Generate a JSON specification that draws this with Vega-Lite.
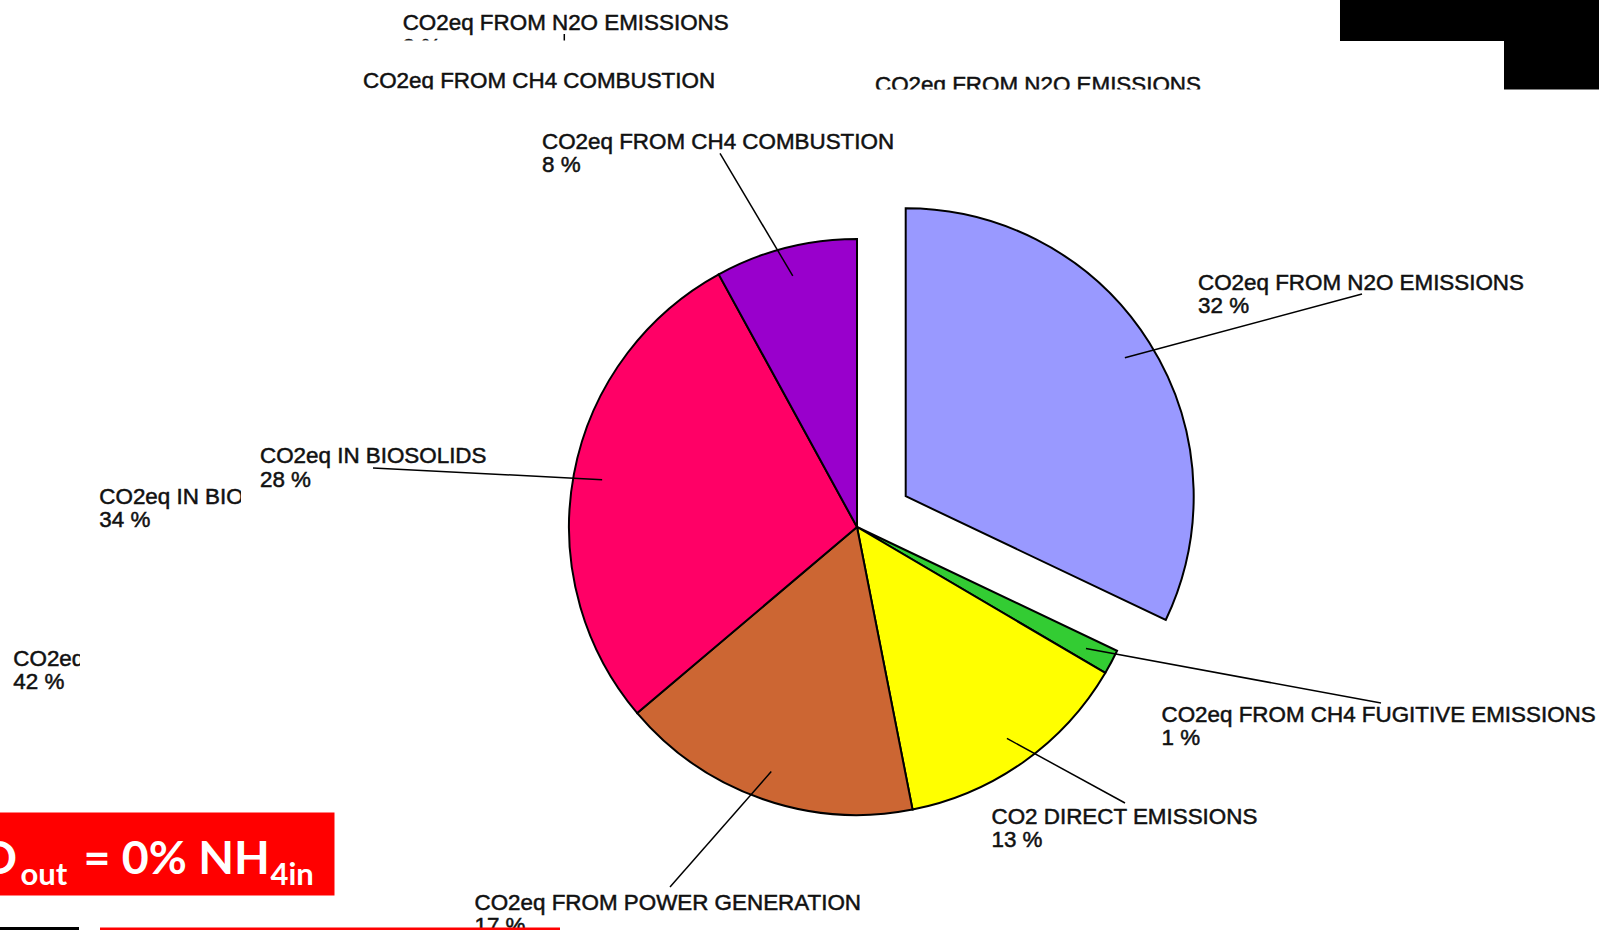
{
  "$schema": "https://vega.github.io/schema/vega-lite/v6.json",
  "width": 1599,
  "height": 930,
  "autosize": "none",
  "padding": 0,
  "background": "white",
  "config": {"view": {"stroke": null}},
  "datasets": {
    "slices": [
      {"k": 1, "name": "CO2eq FROM N2O EMISSIONS", "value": 32.07},
      {"k": 2, "name": "CO2eq FROM CH4 FUGITIVE EMISSIONS", "value": 1.39},
      {"k": 3, "name": "CO2 DIRECT EMISSIONS", "value": 13.45},
      {"k": 4, "name": "CO2eq FROM POWER GENERATION", "value": 16.91},
      {"k": 5, "name": "CO2eq IN BIOSOLIDS", "value": 28.21},
      {"k": 6, "name": "CO2eq FROM CH4 COMBUSTION", "value": 7.97}
    ],
    "anchors": [
      {"name": "CO2eq FROM N2O EMISSIONS", "tx": 1.18403, "ty": 0.82465, "ex": 1.75347, "ey": 0.80903},
      {"name": "CO2eq FROM CH4 FUGITIVE EMISSIONS", "tx": 1.05729, "ty": -0.67569, "ex": 1.81944, "ey": -0.61111},
      {"name": "CO2 DIRECT EMISSIONS", "tx": 0.46701, "ty": -1.03125, "ex": 0.93056, "ey": -0.95833},
      {"name": "CO2eq FROM POWER GENERATION", "tx": -1.32813, "ty": -1.32813, "ex": -0.64931, "ey": -1.25},
      {"name": "CO2eq IN BIOSOLIDS", "tx": -2.07292, "ty": 0.22049, "ex": -1.68056, "ey": 0.20486},
      {"name": "CO2eq FROM CH4 COMBUSTION", "tx": -1.09375, "ty": 1.3125, "ex": -0.47569, "ey": 1.29757}
    ],
    "ghosts": [
      {"chart": "back", "label": "CO2eq FROM N2O EMISSIONS\n9 %", "x": -1.57743, "y": 1.72569},
      {"chart": "back", "label": "CO2eq IN BIOSOLIDS\n42 %", "x": -2.92951, "y": -0.48264},
      {"chart": "middle", "label": "CO2eq FROM CH4 COMBUSTION\n8 %", "x": -1.71528, "y": 1.52326},
      {"chart": "middle", "label": "CO2eq FROM N2O EMISSIONS\n32 %", "x": 0.0625, "y": 1.50938},
      {"chart": "middle", "label": "CO2eq IN BIOSOLIDS\n34 %", "x": -2.6309, "y": 0.08056}
    ],
    "ghost_lines": [
      {"chart": "back", "x": -1.01632, "y": 1.71181, "x2": -1.01632, "y2": 1.62153}
    ],
    "rects": [
      {"role": "middle", "x": -2.69792, "x2": 2.57639, "y": 1.68924, "y2": -1.39931},
      {"role": "front", "x": -2.13889, "x2": 2.57639, "y": 1.5191, "y2": -1.39931},
      {"role": "block", "x": 1.67708, "x2": 2.57639, "y": 1.82986, "y2": 1.6875},
      {"role": "block", "x": 2.24653, "x2": 2.57639, "y": 1.6875, "y2": 1.5191},
      {"role": "banner", "x": -2.97569, "x2": -1.81424, "y": -0.99132, "y2": -1.27951},
      {"role": "block", "x": -2.97569, "x2": -2.70139, "y": -1.38889, "y2": -1.39931},
      {"role": "banner", "x": -2.62847, "x2": -1.03125, "y": -1.39063, "y2": -1.39931}
    ],
    "banner_text": [
      {"kind": "main", "t": "O", "x": -3.04722, "y": -1.20486},
      {"kind": "sub", "t": "out", "x": -2.90486, "y": -1.24306},
      {"kind": "main", "t": "= 0% NH", "x": -2.68542, "y": -1.20486},
      {"kind": "sub", "t": "4in", "x": -2.03646, "y": -1.24306}
    ]
  },
  "layer": [
    {
      "data": {"name": "ghosts"},
      "transform": [{"filter": "datum.chart == 'back'"}],
      "mark": {"type": "text", "align": "left", "baseline": "alphabetic", "font": "Liberation Sans", "fontSize": 22.4, "lineBreak": "\n", "lineHeight": 23.5, "fill": "#111111", "stroke": "#111111", "strokeWidth": 0.5},
      "encoding": {
        "x": {"field": "x", "type": "quantitative", "scale": {"domain": [-2.97569, 2.57639], "nice": false, "zero": false}, "axis": null},
        "y": {"field": "y", "type": "quantitative", "scale": {"domain": [-1.39931, 1.82986], "nice": false, "zero": false}, "axis": null},
        "text": {"field": "label"}
      }
    },
    {
      "data": {"name": "ghost_lines"},
      "mark": {"type": "rule", "stroke": "#000000", "strokeWidth": 1.5},
      "encoding": {
        "x": {"field": "x", "type": "quantitative", "scale": {"domain": [-2.97569, 2.57639], "nice": false, "zero": false}, "axis": null},
        "y": {"field": "y", "type": "quantitative", "scale": {"domain": [-1.39931, 1.82986], "nice": false, "zero": false}, "axis": null},
        "x2": {"field": "x2"},
        "y2": {"field": "y2"}
      }
    },
    {
      "data": {"name": "rects"},
      "transform": [{"filter": "datum.role == 'middle'"}],
      "mark": {"type": "rect", "strokeWidth": 0},
      "encoding": {
        "x": {"field": "x", "type": "quantitative", "scale": {"domain": [-2.97569, 2.57639], "nice": false, "zero": false}, "axis": null},
        "y": {"field": "y", "type": "quantitative", "scale": {"domain": [-1.39931, 1.82986], "nice": false, "zero": false}, "axis": null},
        "x2": {"field": "x2"},
        "y2": {"field": "y2"},
        "fill": {"field": "role", "type": "nominal", "scale": {"domain": ["middle", "front", "block", "banner"], "range": ["#ffffff", "#ffffff", "#000000", "#ff0000"]}, "legend": null}
      }
    },
    {
      "data": {"name": "ghosts"},
      "transform": [{"filter": "datum.chart == 'middle'"}],
      "mark": {"type": "text", "align": "left", "baseline": "alphabetic", "font": "Liberation Sans", "fontSize": 22.4, "lineBreak": "\n", "lineHeight": 23.5, "fill": "#111111", "stroke": "#111111", "strokeWidth": 0.5},
      "encoding": {
        "x": {"field": "x", "type": "quantitative", "scale": {"domain": [-2.97569, 2.57639], "nice": false, "zero": false}, "axis": null},
        "y": {"field": "y", "type": "quantitative", "scale": {"domain": [-1.39931, 1.82986], "nice": false, "zero": false}, "axis": null},
        "text": {"field": "label"}
      }
    },
    {
      "data": {"name": "rects"},
      "transform": [{"filter": "datum.role == 'front'"}],
      "mark": {"type": "rect", "strokeWidth": 0},
      "encoding": {
        "x": {"field": "x", "type": "quantitative", "scale": {"domain": [-2.97569, 2.57639], "nice": false, "zero": false}, "axis": null},
        "y": {"field": "y", "type": "quantitative", "scale": {"domain": [-1.39931, 1.82986], "nice": false, "zero": false}, "axis": null},
        "x2": {"field": "x2"},
        "y2": {"field": "y2"},
        "fill": {"field": "role", "type": "nominal", "scale": {"domain": ["middle", "front", "block", "banner"], "range": ["#ffffff", "#ffffff", "#000000", "#ff0000"]}, "legend": null}
      }
    },
    {
      "data": {"name": "slices"},
      "transform": [
        {"stack": "value", "groupby": [], "sort": [{"field": "k", "order": "ascending"}], "as": ["v0", "v1"]},
        {"calculate": "(datum.v0 + datum.v1) / 100 * PI", "as": "mid"},
        {"calculate": "datum.name == 'CO2eq FROM N2O EMISSIONS' ? 0.2 : 0", "as": "pull"},
        {"calculate": "datum.pull * sin(datum.mid)", "as": "cx"},
        {"calculate": "datum.pull * cos(datum.mid)", "as": "cy"}
      ],
      "mark": {"type": "arc", "radius": 288, "stroke": "#000000", "strokeWidth": 2},
      "encoding": {
        "x": {"field": "cx", "type": "quantitative", "scale": {"domain": [-2.97569, 2.57639], "nice": false, "zero": false}, "axis": null},
        "y": {"field": "cy", "type": "quantitative", "scale": {"domain": [-1.39931, 1.82986], "nice": false, "zero": false}, "axis": null},
        "theta": {"field": "v0", "type": "quantitative", "stack": null, "scale": {"domain": [0, 100], "range": [0, 6.283185307]}},
        "theta2": {"field": "v1"},
        "color": {
          "field": "name", "type": "nominal", "legend": null,
          "scale": {
            "domain": ["CO2eq FROM N2O EMISSIONS", "CO2eq FROM CH4 FUGITIVE EMISSIONS", "CO2 DIRECT EMISSIONS", "CO2eq FROM POWER GENERATION", "CO2eq IN BIOSOLIDS", "CO2eq FROM CH4 COMBUSTION"],
            "range": ["#9999ff", "#33cc33", "#ffff00", "#cc6633", "#ff0066", "#9900cc"]
          }
        }
      }
    },
    {
      "data": {"name": "slices"},
      "transform": [
        {"stack": "value", "groupby": [], "sort": [{"field": "k", "order": "ascending"}], "as": ["v0", "v1"]},
        {"calculate": "(datum.v0 + datum.v1) / 100 * PI", "as": "mid"},
        {"calculate": "datum.name == 'CO2eq FROM N2O EMISSIONS' ? 0.2 : 0", "as": "pull"},
        {"calculate": "(datum.pull + 0.9) * sin(datum.mid)", "as": "ix"},
        {"calculate": "(datum.pull + 0.9) * cos(datum.mid)", "as": "iy"},
        {"lookup": "name", "from": {"data": {"name": "anchors"}, "key": "name", "fields": ["ex", "ey"]}}
      ],
      "mark": {"type": "rule", "stroke": "#000000", "strokeWidth": 1.5},
      "encoding": {
        "x": {"field": "ix", "type": "quantitative", "scale": {"domain": [-2.97569, 2.57639], "nice": false, "zero": false}, "axis": null},
        "y": {"field": "iy", "type": "quantitative", "scale": {"domain": [-1.39931, 1.82986], "nice": false, "zero": false}, "axis": null},
        "x2": {"field": "ex"},
        "y2": {"field": "ey"}
      }
    },
    {
      "data": {"name": "slices"},
      "transform": [
        {"lookup": "name", "from": {"data": {"name": "anchors"}, "key": "name", "fields": ["tx", "ty"]}},
        {"calculate": "datum.name + '\\n' + format(datum.value, '.0f') + ' %'", "as": "label"}
      ],
      "mark": {"type": "text", "align": "left", "baseline": "alphabetic", "font": "Liberation Sans", "fontSize": 22.4, "lineBreak": "\n", "lineHeight": 23.5, "fill": "#111111", "stroke": "#111111", "strokeWidth": 0.5},
      "encoding": {
        "x": {"field": "tx", "type": "quantitative", "scale": {"domain": [-2.97569, 2.57639], "nice": false, "zero": false}, "axis": null},
        "y": {"field": "ty", "type": "quantitative", "scale": {"domain": [-1.39931, 1.82986], "nice": false, "zero": false}, "axis": null},
        "text": {"field": "label"}
      }
    },
    {
      "data": {"name": "rects"},
      "transform": [{"filter": "datum.role == 'block' || datum.role == 'banner'"}],
      "mark": {"type": "rect", "strokeWidth": 0},
      "encoding": {
        "x": {"field": "x", "type": "quantitative", "scale": {"domain": [-2.97569, 2.57639], "nice": false, "zero": false}, "axis": null},
        "y": {"field": "y", "type": "quantitative", "scale": {"domain": [-1.39931, 1.82986], "nice": false, "zero": false}, "axis": null},
        "x2": {"field": "x2"},
        "y2": {"field": "y2"},
        "fill": {"field": "role", "type": "nominal", "scale": {"domain": ["middle", "front", "block", "banner"], "range": ["#ffffff", "#ffffff", "#000000", "#ff0000"]}, "legend": null}
      }
    },
    {
      "data": {"name": "banner_text"},
      "transform": [{"filter": "datum.kind == 'main'"}],
      "mark": {"type": "text", "align": "left", "baseline": "alphabetic", "font": "Lato", "fontWeight": "bold", "fontSize": 46.5, "fill": "#ffffff"},
      "encoding": {
        "x": {"field": "x", "type": "quantitative", "scale": {"domain": [-2.97569, 2.57639], "nice": false, "zero": false}, "axis": null},
        "y": {"field": "y", "type": "quantitative", "scale": {"domain": [-1.39931, 1.82986], "nice": false, "zero": false}, "axis": null},
        "text": {"field": "t"}
      }
    },
    {
      "data": {"name": "banner_text"},
      "transform": [{"filter": "datum.kind == 'sub'"}],
      "mark": {"type": "text", "align": "left", "baseline": "alphabetic", "font": "Lato", "fontWeight": "bold", "fontSize": 31, "fill": "#ffffff"},
      "encoding": {
        "x": {"field": "x", "type": "quantitative", "scale": {"domain": [-2.97569, 2.57639], "nice": false, "zero": false}, "axis": null},
        "y": {"field": "y", "type": "quantitative", "scale": {"domain": [-1.39931, 1.82986], "nice": false, "zero": false}, "axis": null},
        "text": {"field": "t"}
      }
    }
  ]
}
